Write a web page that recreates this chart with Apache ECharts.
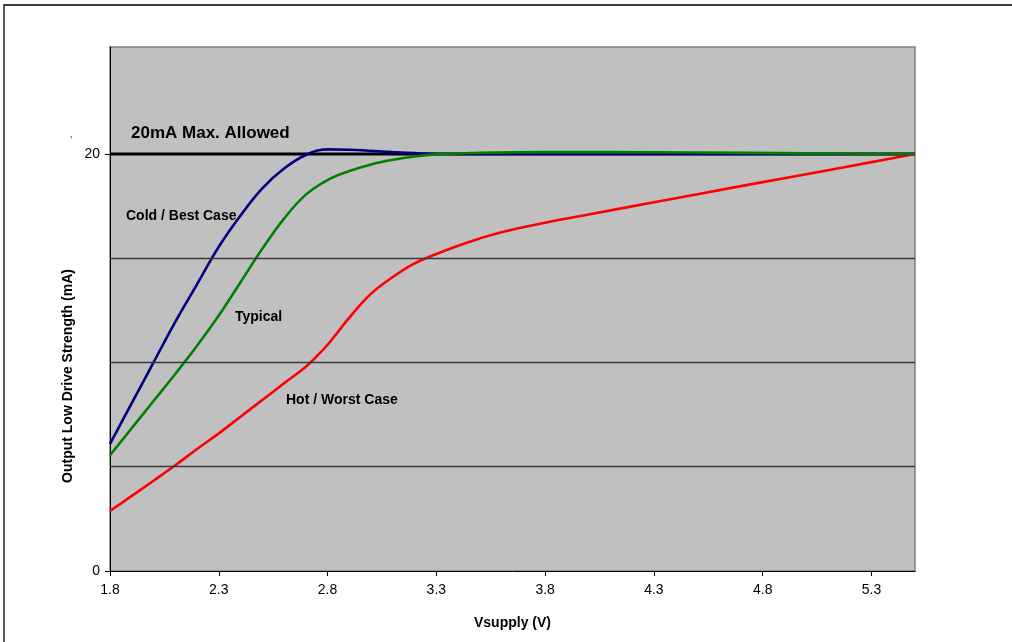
<!DOCTYPE html>
<html>
<head>
<meta charset="utf-8">
<script src="https://cdn.jsdelivr.net/npm/echarts@6/dist/echarts.min.js"></script>
<style>
html,body{margin:0;padding:0;background:#fff;}
#c{width:1012px;height:642px;}
</style>
</head>
<body>
<div id="c"></div>
<script>
// X tick labels
const xTicks = [1.8, 2.3, 2.8, 3.3, 3.8, 4.3, 4.8, 5.3];
const yTicks = [0, 20];

// Cold / Best Case (blue)
const coldX = [1.8,1.9,2.0,2.1,2.2,2.3,2.4,2.5,2.6,2.7,2.8,2.9,3.0,3.1,3.2,3.3,3.5,4.0,4.5,5.0,5.5];
const coldY = [6.1,8.05,10.0,11.95,13.75,15.55,17.05,18.35,19.3,19.95,20.22,20.2,20.15,20.09,20.04,20.01,20.0,20.0,20.0,20.0,20.0];

// Typical (green)
const typX = [1.8,1.9,2.0,2.1,2.2,2.3,2.4,2.5,2.6,2.7,2.8,2.9,3.0,3.1,3.2,3.3,3.5,3.8,4.1,4.5,5.0,5.5];
const typY = [5.55,6.85,8.15,9.45,10.8,12.25,13.85,15.45,16.9,18.05,18.75,19.18,19.5,19.72,19.88,19.98,20.06,20.09,20.09,20.07,20.03,20.0];

// Hot / Worst Case (red)
const hotX = [1.8,1.9,2.0,2.1,2.2,2.3,2.4,2.5,2.6,2.7,2.75,2.8,2.9,3.0,3.1,3.2,3.3,3.4,3.5,3.6,3.8,4.0,4.3,4.5,4.8,5.0,5.3,5.5];
const hotY = [2.88,3.6,4.33,5.07,5.85,6.6,7.4,8.2,9.0,9.8,10.3,10.85,12.15,13.3,14.1,14.75,15.2,15.6,15.95,16.25,16.7,17.1,17.68,18.07,18.65,19.03,19.61,20.0];

// 20mA limit line
const limitX = [1.8, 5.5];
const limitY = [20, 20];

// Horizontal gridlines
const gridY = [5, 10, 15];

const zip = (xs, ys) => xs.map((x, i) => [x, ys[i]]);
const FONT = "'Liberation Sans', Arial, sans-serif";

const chart = echarts.init(document.getElementById('c'), null, {renderer: 'canvas'});
chart.setOption({
  animation: false,
  backgroundColor: '#ffffff',
  textStyle: {fontFamily: FONT},
  grid: {
    left: 110, top: 47, right: 97, bottom: 71,
    show: true, backgroundColor: '#C0C0C0',
    borderColor: '#808080', borderWidth: 1.5
  },
  xAxis: {
    type: 'value', min: 1.8, max: 5.5,
    name: 'Vsupply (V)', nameLocation: 'middle', nameGap: 45,
    nameTextStyle: {fontFamily: FONT, fontSize: 14, fontWeight: 'bold', color: '#000'},
    axisLine: {show: true, onZero: false, lineStyle: {color: '#000', width: 1}},
    axisTick: {show: true, length: 5, customValues: xTicks, lineStyle: {color: '#000'}},
    axisLabel: {customValues: xTicks, fontFamily: FONT, fontSize: 14, color: '#000', margin: 12,
      formatter: v => Number(v).toFixed(1)},
    splitLine: {show: false}
  },
  yAxis: {
    type: 'value', min: 0, max: 25.13,
    axisLine: {show: true, onZero: false, lineStyle: {color: '#000', width: 1}},
    axisTick: {show: true, length: 5, customValues: yTicks, lineStyle: {color: '#000'}},
    axisLabel: {customValues: yTicks, fontFamily: FONT, fontSize: 14, color: '#000', margin: 10},
    splitLine: {show: false}
  },
  series: [
    {type: 'line', name: 'grid', data: [], symbol: 'none', silent: true, z: 1,
      markLine: {silent: true, symbol: 'none', label: {show: false},
        lineStyle: {color: '#383838', width: 1.3, type: 'solid'},
        data: gridY.map(v => ({yAxis: v}))}},
    {type: 'line', name: '20mA Max. Allowed', data: zip(limitX, limitY), symbol: 'none',
      lineStyle: {color: '#000', width: 3}, z: 2, silent: true},
    {type: 'line', name: 'Hot / Worst Case', data: zip(hotX, hotY), symbol: 'none', smooth: 0.4,
      lineStyle: {color: '#FF0000', width: 2.6}, z: 3},
    {type: 'line', name: 'Typical', data: zip(typX, typY), symbol: 'none', smooth: 0.4,
      lineStyle: {color: '#008000', width: 2.6}, z: 4},
    {type: 'line', name: 'Cold / Best Case', data: zip(coldX, coldY), symbol: 'none', smooth: 0.4,
      lineStyle: {color: '#000080', width: 2.6}, z: 3}
  ],
  graphic: [
    {type: 'rect', z: -10, shape: {x: 4, y: 5, width: 1100, height: 700},
      style: {fill: 'none', stroke: '#000', lineWidth: 1.3}},
    {type: 'text', x: 68, y: 376, rotation: Math.PI / 2,
      style: {text: 'Output Low Drive Strength (mA)', font: "bold 14px 'Liberation Sans', Arial, sans-serif",
        fill: '#000', align: 'center', verticalAlign: 'middle'}},
    {type: 'text', x: 131, y: 133,
      style: {text: '20mA Max. Allowed', font: "bold 17px 'Liberation Sans', Arial, sans-serif",
        fill: '#000', align: 'left', verticalAlign: 'middle'}},
    {type: 'text', x: 126, y: 216,
      style: {text: 'Cold / Best Case', font: "bold 14px 'Liberation Sans', Arial, sans-serif",
        fill: '#000', align: 'left', verticalAlign: 'middle'}},
    {type: 'text', x: 235, y: 317,
      style: {text: 'Typical', font: "bold 14px 'Liberation Sans', Arial, sans-serif",
        fill: '#000', align: 'left', verticalAlign: 'middle'}},
    {type: 'text', x: 286, y: 400,
      style: {text: 'Hot / Worst Case', font: "bold 14px 'Liberation Sans', Arial, sans-serif",
        fill: '#000', align: 'left', verticalAlign: 'middle'}},
    {type: 'text', x: 70, y: 136,
      style: {text: '\u02BC', font: "10px 'Liberation Sans', Arial, sans-serif", fill: '#333'}}
  ]
});
</script>
</body>
</html>
